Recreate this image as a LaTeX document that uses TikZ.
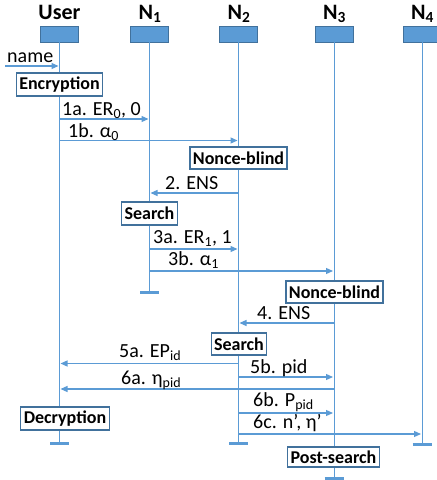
\documentclass[tikz,border=0pt]{standalone}
\usepackage{fontspec}
\setmainfont{Carlito}
\usetikzlibrary{arrows.meta}
\definecolor{lifeblue}{HTML}{5B9BD5}
\definecolor{edgeblue}{HTML}{41719C}

\begin{document}
\begin{tikzpicture}[x=1pt,y=-1pt,shorten >=1pt,>={Triangle[length=7pt,width=6pt]}]
    \tikzstyle{head}=[rectangle,fill=lifeblue,draw=edgeblue,line width=0.8pt,minimum width=38pt,minimum height=16pt,inner sep=0pt]
    \tikzstyle{head label}=[font=\fontsize{22}{24}\selectfont\bfseries,anchor=base,inner sep=0pt]
    \tikzstyle{life}=[draw=lifeblue,line width=1pt,shorten >=0pt]
    \tikzstyle{life end}=[draw=lifeblue,line width=3pt,shorten >=0pt]
    \tikzstyle{msg}=[->,draw=lifeblue,line width=1.2pt]
    \tikzstyle{activity}=[rectangle,draw=edgeblue,fill=white,line width=1.2pt,minimum height=23pt,inner xsep=3pt,inner ysep=0pt,font=\fontsize{18}{20}\selectfont\bfseries]
    \tikzstyle{annot}=[font=\fontsize{20}{22}\selectfont,anchor=base west,inner sep=0pt]

    \useasboundingbox (0,0) rectangle (437,480);

    % participants
    \node[head] (user) at (59.5,34) {};
    \node[head] (n1) at (149.5,34) {};
    \node[head] (n2) at (238.5,34) {};
    \node[head] (n3) at (334,34) {};
    \node[head] (n4) at (422,34) {};

    \node[head label] (user-lbl) at (59.5,19) {User};
    \node[head label] (n1-lbl) at (150,19) {N\textsubscript{1}};
    \node[head label] (n2-lbl) at (239,19) {N\textsubscript{2}};
    \node[head label] (n3-lbl) at (334.5,19) {N\textsubscript{3}};
    \node[head label] (n4-lbl) at (422.5,19) {N\textsubscript{4}};

    \coordinate (user-end) at (59.5,443);
    \coordinate (n1-end) at (149.5,292);
    \coordinate (n2-end) at (238.5,443);
    \coordinate (n3-end) at (334,478);
    \coordinate (n4-end) at (422,444);

    \draw[life] (user) -- (user-end);
    \draw[life] (n1) -- (n1-end);
    \draw[life] (n2) -- (n2-end);
    \draw[life] (n3) -- (n3-end);
    \draw[life] (n4) -- (n4-end);

    \draw[life end] ([xshift=-9.5pt]user-end) -- ([xshift=9.5pt]user-end);
    \draw[life end] ([xshift=-9.5pt]n1-end) -- ([xshift=9.5pt]n1-end);
    \draw[life end] ([xshift=-9.5pt]n2-end) -- ([xshift=9.5pt]n2-end);
    \draw[life end] ([xshift=-9.5pt]n3-end) -- ([xshift=9.5pt]n3-end);
    \draw[life end] ([xshift=-9.5pt]n4-end) -- ([xshift=9.5pt]n4-end);

    % messages
    \coordinate (in) at (5,66);
    \coordinate (r1a) at (0,119);
    \coordinate (r1b) at (0,140.5);
    \coordinate (r2) at (0,193);
    \coordinate (r3a) at (0,249);
    \coordinate (r3b) at (0,271);
    \coordinate (r4) at (0,323);
    \coordinate (r5a) at (0,363.5);
    \coordinate (r5b) at (0,377);
    \coordinate (r6a) at (0,389);
    \coordinate (r6b) at (0,413);
    \coordinate (r6c) at (0,434);

    \draw[msg] (in) -- (user |- in);
    \draw[msg] (user |- r1a) -- (n1 |- r1a);
    \draw[msg] (user |- r1b) -- (n2 |- r1b);
    \draw[msg] (n2 |- r2) -- (n1 |- r2);
    \draw[msg] (n1 |- r3a) -- (n2 |- r3a);
    \draw[msg] (n1 |- r3b) -- (n3 |- r3b);
    \draw[msg] (n3 |- r4) -- (n2 |- r4);
    \draw[msg] (n2 |- r5a) -- (user |- r5a);
    \draw[msg] (n2 |- r5b) -- (n3 |- r5b);
    \draw[msg] (n3 |- r6a) -- (user |- r6a);
    \draw[msg] (n2 |- r6b) -- (n3 |- r6b);
    \draw[msg] (n2 |- r6c) -- (n4 |- r6c);

    \node[annot] (l-name) at (7,62.5) {name};
    \node[annot] (l1a) at (62,115) {1a. ER\textsubscript{0}, 0};
    \node[annot] (l1b) at (68,137) {1b. α\textsubscript{0}};
    \node[annot] (l2) at (165,189) {2. ENS};
    \node[annot] (l3a) at (153,243) {3a. ER\textsubscript{1}, 1};
    \node[annot] (l3b) at (168,265) {3b. α\textsubscript{1}};
    \node[annot] (l4) at (257,319) {4. ENS};
    \node[annot] (l5a) at (119,357) {5a. EP\textsubscript{id}};
    \node[annot] (l5b) at (250,373) {5b. pid};
    \node[annot] (l6a) at (121,384) {6a. η\textsubscript{pid}};
    \node[annot] (l6b) at (253,406) {6b. P\textsubscript{pid}};
    \node[annot] (l6c) at (253,428) {6c. n’, η’};

    % activities
    \node[activity] (enc) at (59.5,84.5) {Encryption};
    \node[activity,minimum height=22pt] (blind1) at (238.5,158) {Nonce-blind};
    \node[activity] (search1) at (149.5,213.5) {Search};
    \node[activity,minimum height=22pt] (blind2) at (334.5,292) {Nonce-blind};
    \node[activity,minimum height=22pt] (search2) at (239,344) {Search};
    \node[activity] (dec) at (65,418.5) {Decryption};
    \node[activity,minimum height=20pt] (post) at (333.5,457) {Post-search};

\end{tikzpicture}
\end{document}
